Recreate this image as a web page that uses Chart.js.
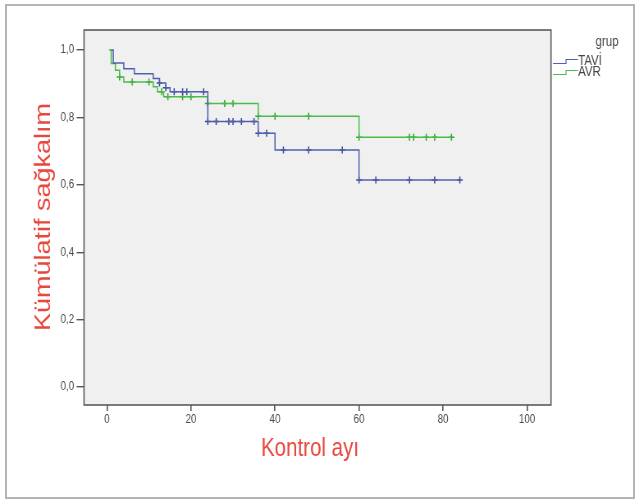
<!DOCTYPE html>
<html>
<head>
<meta charset="utf-8">
<script src="https://cdn.jsdelivr.net/npm/chart.js@4.4.1/dist/chart.umd.min.js"></script>
<style>
html, body { margin: 0; padding: 0; background: #fff; }
#page { position: relative; width: 639px; height: 502px; overflow: hidden; }
#frame { position: absolute; left: 5px; top: 4px; width: 626px; height: 491px; border: 2px solid #b4b4b4; }
/* the reference is squeezed sideways, so the chart is drawn wider and scaled back */
#wrap { position: absolute; left: 0; top: 0; width: 779px; height: 502px; transform: scaleX(0.8203); transform-origin: 0 0; }
</style>
</head>
<body>
<div id="page">
  <div id="frame"></div>
  <div id="wrap"><canvas id="grafica"></canvas></div>
</div>
<script>
// Kaplan-Meier steps (time in months, cumulative survival)
const taviT = [1, 1.5, 4, 6.5, 11, 12.5, 14, 15, 24, 36, 40, 60, 84];
const taviS = [1.0, 0.961, 0.944, 0.929, 0.915, 0.902, 0.888, 0.876, 0.788, 0.753, 0.703, 0.614, 0.614];
const avrT = [0.5, 1, 2, 3, 4, 11, 12, 13.5, 24, 36, 60, 82];
const avrS = [1.0, 0.96, 0.94, 0.92, 0.905, 0.891, 0.876, 0.861, 0.841, 0.803, 0.741, 0.741];

// censored observations (+ marks)
const taviCensT = [12.5, 14, 16, 18, 19, 23, 24, 26, 29, 30, 32, 35, 36, 38, 42, 48, 56, 60, 64, 72, 78, 84];
const taviCensS = [0.902, 0.888, 0.876, 0.876, 0.876, 0.876, 0.788, 0.788, 0.788, 0.788, 0.788, 0.788, 0.753, 0.753, 0.703, 0.703, 0.703, 0.614, 0.614, 0.614, 0.614, 0.614];
const avrCensT = [3, 6, 10, 13, 14.5, 18, 20, 24, 28, 30, 36, 40, 48, 60, 72, 73, 76, 78, 82];
const avrCensS = [0.92, 0.905, 0.905, 0.876, 0.861, 0.861, 0.861, 0.841, 0.841, 0.841, 0.803, 0.803, 0.803, 0.741, 0.741, 0.741, 0.741, 0.741, 0.741];

const xTicks = [0, 20, 40, 60, 80, 100];
const yTicks = [0, 0.2, 0.4, 0.6, 0.8, 1.0];
const grupLabels = ['TAVİ', 'AVR'];

const K = 639 / 779;   // horizontal squeeze
const px = x => x / K;  // page pixel -> canvas x
const blue = '#5060ad';
const blueDark = '#3a489a';
const green = '#4cbb4c';
const greenDark = '#32a332';
const red = '#e8473d';
const font = '"Liberation Sans", Arial, sans-serif';

const pts = (t, s) => t.map((v, i) => ({x: v, y: s[i]}));

const panel = {
    id: 'panel',
    beforeDraw(chart) {
        const {ctx, chartArea: a} = chart;
        ctx.save();
        ctx.fillStyle = '#f0f0f0';
        ctx.fillRect(a.left, a.top, a.right - a.left, a.bottom - a.top);
        ctx.restore();
    },
    afterDraw(chart) {
        const {ctx, chartArea: a} = chart;
        ctx.save();
        ctx.strokeStyle = '#5a5a5a';
        ctx.lineWidth = 1.6;
        ctx.strokeRect(a.left, a.top, a.right - a.left, a.bottom - a.top);

        // axis titles
        ctx.fillStyle = red;
        ctx.font = '25px ' + font;
        ctx.textAlign = 'center';
        ctx.textBaseline = 'alphabetic';
        ctx.fillText('Kontrol ayı', px(310), 456);

        ctx.save();
        ctx.translate(px(50), 217);
        ctx.rotate(-Math.PI / 2);
        ctx.font = '27px ' + font;
        ctx.fillText('Kümülatif sağkalım', 0, 0);
        ctx.restore();

        // legend
        ctx.fillStyle = '#444';
        ctx.font = '14px ' + font;
        ctx.textAlign = 'center';
        ctx.fillText('grup', px(607), 46);
        ctx.textAlign = 'left';
        const cols = [blue, green];
        const rows = [65, 76];
        grupLabels.forEach((lab, i) => {
            const y = rows[i] - 3;
            ctx.strokeStyle = cols[i];
            ctx.lineWidth = 1.2;
            ctx.beginPath();
            ctx.moveTo(px(553), y + 1.5);
            ctx.lineTo(px(566), y + 1.5);
            ctx.lineTo(px(566), y - 2.5);
            ctx.lineTo(px(578), y - 2.5);
            ctx.stroke();
            ctx.fillStyle = '#444';
            ctx.fillText(lab, px(578), rows[i]);
        });
        ctx.restore();
    }
};

new Chart(document.getElementById('grafica'), {
    type: 'scatter',
    data: {
        datasets: [{
            label: grupLabels[0],
            data: pts(taviT, taviS),
            showLine: true,
            stepped: true,
            borderColor: blue,
            borderWidth: 1.5,
            pointRadius: 0,
            fill: false
        }, {
            label: grupLabels[1],
            data: pts(avrT, avrS),
            showLine: true,
            stepped: true,
            borderColor: green,
            borderWidth: 1.5,
            pointRadius: 0,
            fill: false
        }, {
            label: grupLabels[0] + ' sansürlü',
            data: pts(taviCensT, taviCensS),
            showLine: false,
            pointStyle: 'cross',
            pointRadius: 3.5,
            pointBorderColor: blueDark,
            pointBorderWidth: 1.5
        }, {
            label: grupLabels[1] + ' sansürlü',
            data: pts(avrCensT, avrCensS),
            showLine: false,
            pointStyle: 'cross',
            pointRadius: 3.5,
            pointBorderColor: greenDark,
            pointBorderWidth: 1.5
        }]
    },
    options: {
        responsive: true,
        maintainAspectRatio: false,
        animation: false,
        events: [],
        layout: {padding: {top: 30, right: 779 - px(551), left: 0, bottom: 0}},
        plugins: {legend: {display: false}, tooltip: {enabled: false}},
        scales: {
            x: {
                type: 'linear',
                min: -5.47,
                max: 105.7,
                afterFit(s) { s.height = 97; },
                afterBuildTicks(s) { s.ticks = xTicks.map(v => ({value: v})); },
                grid: {drawOnChartArea: false, drawTicks: true, tickLength: 6, color: '#555', lineWidth: 1.6},
                border: {display: false},
                ticks: {color: '#4a4a4a', font: {family: font, size: 12}, padding: 1, maxRotation: 0, autoSkip: false}
            },
            y: {
                type: 'linear',
                min: -0.053,
                max: 1.059,
                afterFit(s) { s.width = px(84); },
                afterBuildTicks(s) { s.ticks = yTicks.map(v => ({value: v})); },
                grid: {drawOnChartArea: false, drawTicks: true, tickLength: 9, color: '#555', lineWidth: 1.4},
                border: {display: false},
                ticks: {
                    color: '#4a4a4a',
                    font: {family: font, size: 12},
                    padding: 3,
                    autoSkip: false,
                    callback: v => v.toFixed(1).replace('.', ',')
                }
            }
        }
    },
    plugins: [panel]
});
</script>
</body>
</html>
